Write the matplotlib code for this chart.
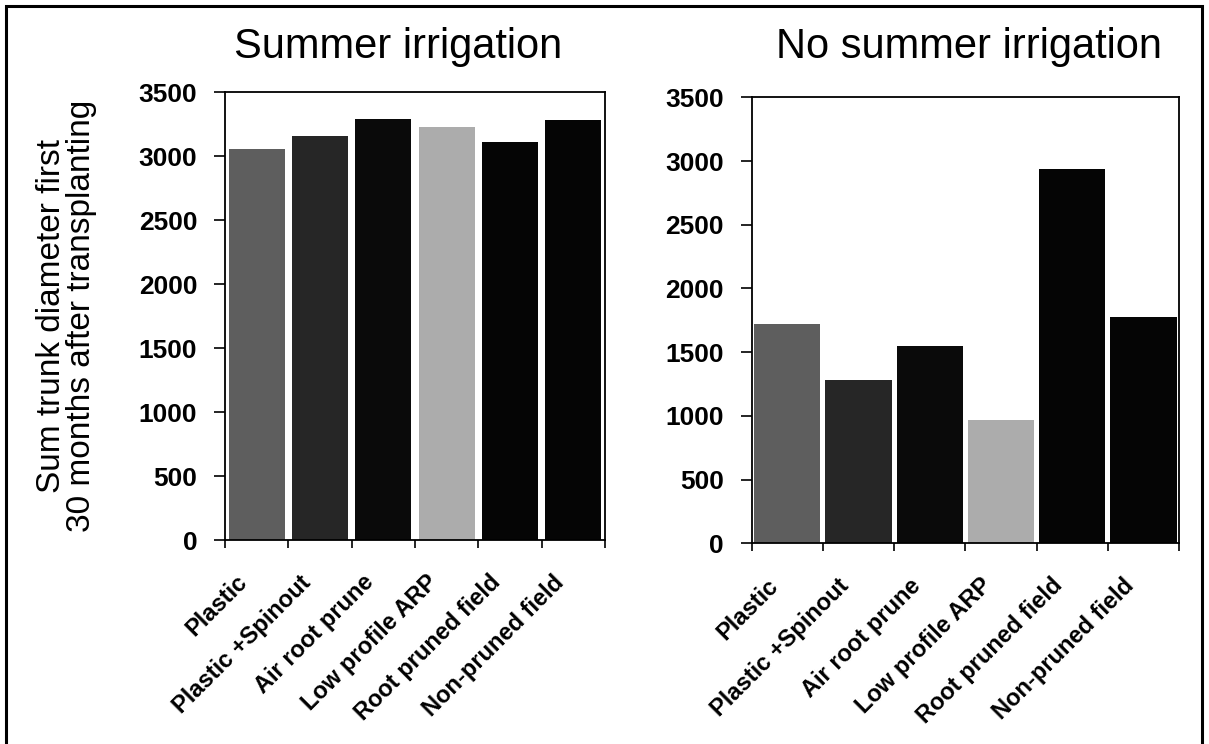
import matplotlib
matplotlib.use("Agg")
import matplotlib.pyplot as plt
from matplotlib.patches import Rectangle
from matplotlib.transforms import ScaledTranslation
import numpy as np

categories = ["Plastic", "Plastic +Spinout", "Air root prune",
              "Low profile ARP", "Root pruned field", "Non-pruned field"]
summer_irrigation = [3055, 3160, 3290, 3225, 3112, 3284]
no_summer_irrigation = [1721, 1282, 1551, 968, 2935, 1779]
titles = ["Summer irrigation", "No summer irrigation"]
ylabel = "Sum trunk diameter first\n30 months after transplanting"
yticks = [0, 500, 1000, 1500, 2000, 2500, 3000, 3500]
bar_colors = ["#5e5e5e", "#262626", "#0a0a0a", "#acacac", "#050505", "#050505"]

plt.rcParams['font.family'] = ['Liberation Sans', 'DejaVu Sans']

fig = plt.figure(figsize=(12.09, 7.44), dpi=100)

ax1 = fig.add_axes([225/1209, (744-540)/744, 380/1209, 448/744])
ax2 = fig.add_axes([751.7/1209, (744-543.3)/744, 427.3/1209, 446/744])

specs = [(ax1, summer_irrigation, 0.885, titles[0], 398),
         (ax2, no_summer_irrigation, 0.93, titles[1], 969)]

shift = ScaledTranslation(-13/100, 0, fig.dpi_scale_trans)

x = np.arange(len(categories))
for ax, vals, w, title, tx in specs:
    ax.bar(x, vals, width=w, color=bar_colors, edgecolor='none')
    ax.set_xlim(-0.5, len(categories) - 0.5)
    ax.set_ylim(0, 3500)
    ax.set_yticks(yticks)
    ax.set_yticklabels([str(v) for v in yticks], fontsize=19, fontweight='bold')
    ax.tick_params(axis='y', direction='out', length=8, width=1.2, pad=12)
    ax.set_xticks(np.arange(-0.5, len(categories), 1.0))
    ax.set_xticklabels([])
    ax.tick_params(axis='x', which='major', direction='out', length=6, width=1.2)
    ax.set_xticks(x, minor=True)
    labels = ax.set_xticklabels(categories, minor=True, rotation=45, ha='right',
                                va='center', rotation_mode='anchor',
                                fontsize=17, fontweight='bold')
    ax.tick_params(axis='x', which='minor', length=0, pad=28)
    for lb in labels:
        lb.set_transform(lb.get_transform() + shift)
    for s in ax.spines.values():
        s.set_linewidth(1.3)
    fig.text(tx/1209, 1 - 58/744, title, fontsize=30, ha='center',
             va='baseline')

ax1.set_ylabel(ylabel, fontsize=24, labelpad=30, linespacing=0.95)

fig.patches.append(Rectangle((6/1209, -0.02), (1202-6)/1209, 1.02 - 6/744,
                             transform=fig.transFigure, fill=False,
                             edgecolor='black', linewidth=2.2))

fig.savefig("out.png", dpi=100)
